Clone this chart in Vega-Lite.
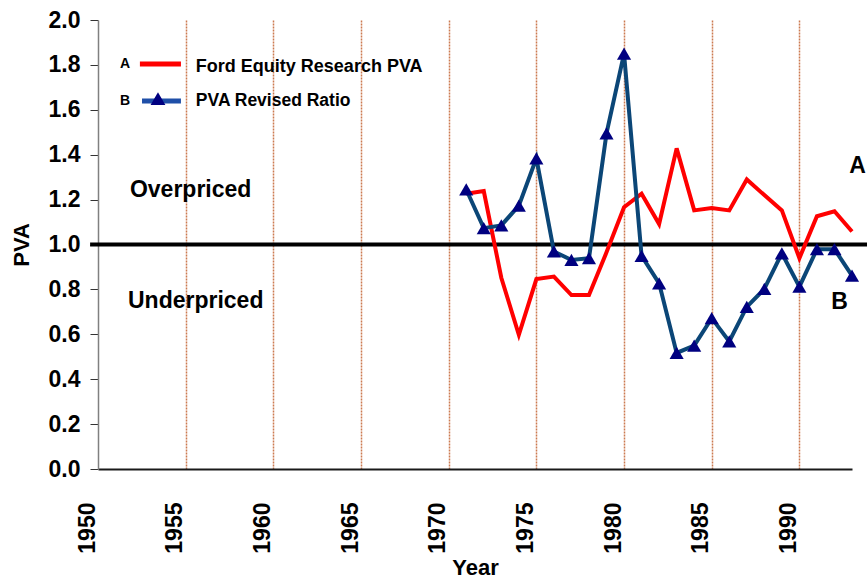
{
  "$schema": "https://vega.github.io/schema/vega-lite/v6.json",
  "width": 754,
  "height": 449,
  "autosize": {"type": "none"},
  "padding": {"left": 98, "top": 20, "right": 15, "bottom": 110},
  "background": "white",
  "config": {
    "view": {"stroke": null},
    "font": "Liberation Sans",
    "text": {"font": "Liberation Sans", "fontWeight": "bold", "color": "black"}
  },
  "datasets": {
    "pva": [
      {"Year": 1971, "Series": "A", "PVA": 1.226},
      {"Year": 1972, "Series": "A", "PVA": 1.238},
      {"Year": 1973, "Series": "A", "PVA": 0.852},
      {"Year": 1974, "Series": "A", "PVA": 0.598},
      {"Year": 1975, "Series": "A", "PVA": 0.846},
      {"Year": 1976, "Series": "A", "PVA": 0.857},
      {"Year": 1977, "Series": "A", "PVA": 0.775},
      {"Year": 1978, "Series": "A", "PVA": 0.775},
      {"Year": 1979, "Series": "A", "PVA": 0.965},
      {"Year": 1980, "Series": "A", "PVA": 1.166},
      {"Year": 1981, "Series": "A", "PVA": 1.226},
      {"Year": 1982, "Series": "A", "PVA": 1.091},
      {"Year": 1983, "Series": "A", "PVA": 1.428},
      {"Year": 1984, "Series": "A", "PVA": 1.152},
      {"Year": 1985, "Series": "A", "PVA": 1.163},
      {"Year": 1986, "Series": "A", "PVA": 1.152},
      {"Year": 1987, "Series": "A", "PVA": 1.29},
      {"Year": 1988, "Series": "A", "PVA": 1.22},
      {"Year": 1989, "Series": "A", "PVA": 1.152},
      {"Year": 1990, "Series": "A", "PVA": 0.939},
      {"Year": 1991, "Series": "A", "PVA": 1.126},
      {"Year": 1992, "Series": "A", "PVA": 1.148},
      {"Year": 1993, "Series": "A", "PVA": 1.058},
      {"Year": 1971, "Series": "B", "PVA": 1.245},
      {"Year": 1972, "Series": "B", "PVA": 1.073},
      {"Year": 1973, "Series": "B", "PVA": 1.085},
      {"Year": 1974, "Series": "B", "PVA": 1.173},
      {"Year": 1975, "Series": "B", "PVA": 1.384},
      {"Year": 1976, "Series": "B", "PVA": 0.969},
      {"Year": 1977, "Series": "B", "PVA": 0.931},
      {"Year": 1978, "Series": "B", "PVA": 0.939},
      {"Year": 1979, "Series": "B", "PVA": 1.495},
      {"Year": 1980, "Series": "B", "PVA": 1.85},
      {"Year": 1981, "Series": "B", "PVA": 0.949},
      {"Year": 1982, "Series": "B", "PVA": 0.827},
      {"Year": 1983, "Series": "B", "PVA": 0.517},
      {"Year": 1984, "Series": "B", "PVA": 0.55},
      {"Year": 1985, "Series": "B", "PVA": 0.672},
      {"Year": 1986, "Series": "B", "PVA": 0.568},
      {"Year": 1987, "Series": "B", "PVA": 0.722},
      {"Year": 1988, "Series": "B", "PVA": 0.802},
      {"Year": 1989, "Series": "B", "PVA": 0.961},
      {"Year": 1990, "Series": "B", "PVA": 0.812},
      {"Year": 1991, "Series": "B", "PVA": 0.979},
      {"Year": 1992, "Series": "B", "PVA": 0.979},
      {"Year": 1993, "Series": "B", "PVA": 0.861}
    ],
    "one": [{"k": 1}]
  },
  "layer": [
    {
      "data": {"name": "one"},
      "mark": {"type": "rule", "color": "black", "strokeWidth": 4, "clip": false},
      "encoding": {
        "x": {
          "datum": 1949.55,
          "type": "quantitative",
          "scale": {"domain": [1950, 1993], "nice": false, "zero": false},
          "axis": {
            "title": "Year",
            "values": [1950, 1955, 1960, 1965, 1970, 1975, 1980, 1985, 1990],
            "format": "d",
            "labelAngle": 270,
            "labelBaseline": "middle",
            "labelAlign": "right",
            "labelOffset": -11,
            "labelPadding": 33,
            "labelFont": "Liberation Sans",
            "labelFontWeight": "bold",
            "labelFontSize": 23,
            "labelColor": "black",
            "ticks": false,
            "tickSize": 0,
            "domainColor": "#1a1a1a",
            "domainWidth": 2,
            "grid": true,
            "gridColor": "#cc7a50",
            "gridDash": [2, 1],
            "gridWidth": 1.5,
            "gridOpacity": {"condition": {"test": "datum.value === 1950", "value": 0}, "value": 1},
            "titleFont": "Liberation Sans",
            "titleFontWeight": "bold",
            "titleFontSize": 22,
            "titleColor": "black",
            "titlePadding": 4
          }
        },
        "x2": {"datum": 1994},
        "y": {
          "datum": 1.0,
          "type": "quantitative",
          "scale": {"domain": [0, 2], "nice": false},
          "axis": {
            "title": "PVA",
            "values": [0, 0.2, 0.4, 0.6, 0.8, 1.0, 1.2, 1.4, 1.6, 1.8, 2.0],
            "format": ".1f",
            "grid": false,
            "labelFont": "Liberation Sans",
            "labelFontWeight": "bold",
            "labelFontSize": 23,
            "labelColor": "black",
            "labelPadding": 10,
            "tickSize": 8,
            "tickColor": "#333333",
            "tickWidth": 1,
            "domainColor": "#808080",
            "domainWidth": 1.5,
            "titleFont": "Liberation Sans",
            "titleFontWeight": "bold",
            "titleFontSize": 22,
            "titleColor": "black",
            "titlePadding": 15
          }
        }
      }
    },
    {
      "data": {"name": "pva"},
      "transform": [{"filter": "datum.Series === 'A'"}],
      "mark": {"type": "line", "color": "#ff0000", "strokeWidth": 4, "strokeJoin": "miter"},
      "encoding": {
        "x": {"field": "Year", "type": "quantitative"},
        "y": {"field": "PVA", "type": "quantitative"}
      }
    },
    {
      "data": {"name": "pva"},
      "transform": [{"filter": "datum.Series === 'B'"}],
      "mark": {"type": "line", "color": "#0b4677", "strokeWidth": 4, "strokeJoin": "miter"},
      "encoding": {
        "x": {"field": "Year", "type": "quantitative"},
        "y": {"field": "PVA", "type": "quantitative"}
      }
    },
    {
      "data": {"name": "pva"},
      "transform": [{"filter": "datum.Series === 'B'"}],
      "mark": {"type": "point", "shape": "triangle-up", "filled": true, "color": "#000080", "size": 200, "opacity": 1},
      "encoding": {
        "x": {"field": "Year", "type": "quantitative"},
        "y": {"field": "PVA", "type": "quantitative"}
      }
    },
    {
      "data": {"name": "one"},
      "mark": {"type": "text", "text": "Overpriced", "align": "left", "baseline": "middle", "fontSize": 23},
      "encoding": {"x": {"datum": 1951.82, "type": "quantitative"}, "y": {"datum": 1.243, "type": "quantitative"}}
    },
    {
      "data": {"name": "one"},
      "mark": {"type": "text", "text": "Underpriced", "align": "left", "baseline": "middle", "fontSize": 23},
      "encoding": {"x": {"datum": 1951.71, "type": "quantitative"}, "y": {"datum": 0.748, "type": "quantitative"}}
    },
    {
      "data": {"name": "one"},
      "mark": {"type": "text", "text": "A", "align": "left", "baseline": "middle", "fontSize": 23},
      "encoding": {"x": {"datum": 1992.85, "type": "quantitative"}, "y": {"datum": 1.35, "type": "quantitative"}}
    },
    {
      "data": {"name": "one"},
      "mark": {"type": "text", "text": "B", "align": "left", "baseline": "middle", "fontSize": 23},
      "encoding": {"x": {"datum": 1991.82, "type": "quantitative"}, "y": {"datum": 0.744, "type": "quantitative"}}
    },
    {
      "data": {"name": "one"},
      "mark": {"type": "text", "text": "A", "align": "center", "baseline": "middle", "fontSize": 14},
      "encoding": {"x": {"datum": 1951.54, "type": "quantitative"}, "y": {"datum": 1.804, "type": "quantitative"}}
    },
    {
      "data": {"name": "one"},
      "mark": {"type": "rule", "color": "#ff0000", "strokeWidth": 5},
      "encoding": {"x": {"datum": 1952.39, "type": "quantitative"}, "x2": {"datum": 1954.73}, "y": {"datum": 1.804, "type": "quantitative"}}
    },
    {
      "data": {"name": "one"},
      "mark": {"type": "text", "text": "Ford Equity Research PVA", "align": "left", "baseline": "middle", "fontSize": 18},
      "encoding": {"x": {"datum": 1955.58, "type": "quantitative"}, "y": {"datum": 1.79, "type": "quantitative"}}
    },
    {
      "data": {"name": "one"},
      "mark": {"type": "text", "text": "B", "align": "center", "baseline": "middle", "fontSize": 14},
      "encoding": {"x": {"datum": 1951.54, "type": "quantitative"}, "y": {"datum": 1.639, "type": "quantitative"}}
    },
    {
      "data": {"name": "one"},
      "mark": {"type": "rule", "color": "#1f4fa8", "strokeWidth": 5},
      "encoding": {"x": {"datum": 1952.51, "type": "quantitative"}, "x2": {"datum": 1954.73}, "y": {"datum": 1.639, "type": "quantitative"}}
    },
    {
      "data": {"name": "one"},
      "mark": {"type": "point", "shape": "triangle-up", "filled": true, "color": "#000080", "size": 220, "opacity": 1},
      "encoding": {"x": {"datum": 1953.42, "type": "quantitative"}, "y": {"datum": 1.65, "type": "quantitative"}}
    },
    {
      "data": {"name": "one"},
      "mark": {"type": "text", "text": "PVA Revised Ratio", "align": "left", "baseline": "middle", "fontSize": 17.5},
      "encoding": {"x": {"datum": 1955.58, "type": "quantitative"}, "y": {"datum": 1.641, "type": "quantitative"}}
    }
  ]
}
